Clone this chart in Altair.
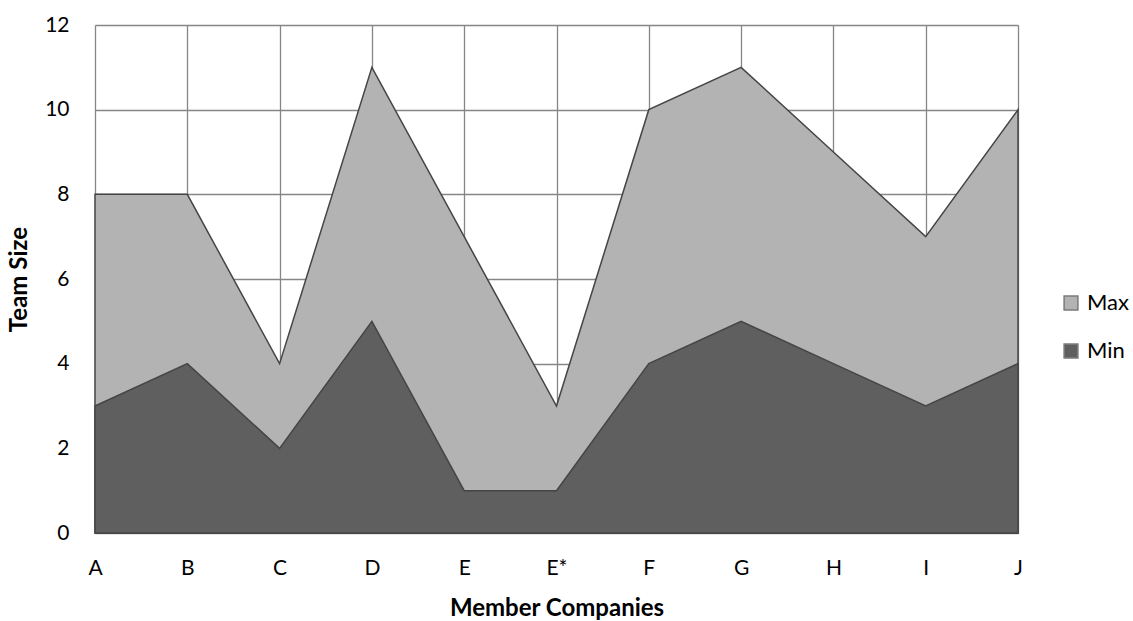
import altair as alt
import pandas as pd

companies = ["A", "B", "C", "D", "E", "E*", "F", "G", "H", "I", "J"]
min_vals = [3, 4, 2, 5, 1, 1, 4, 5, 4, 3, 4]
max_vals = [8, 8, 4, 11, 7, 3, 10, 11, 9, 7, 10]

rows = []
for c, v in zip(companies, max_vals):
    rows.append({"company": c, "series": "Max", "value": v})
for c, v in zip(companies, min_vals):
    rows.append({"company": c, "series": "Min", "value": v})
df = pd.DataFrame(rows)

FONT = "Lato"

x = alt.X("company:N", sort=companies, title="Member Companies",
          scale=alt.Scale(type="point", padding=0),
          axis=alt.Axis(labelAngle=0, labelPadding=24, ticks=False, domain=False,
                        grid=True, gridColor="#868686", gridWidth=1.3,
                        labelFontSize=21, titleFontSize=24, titleFontWeight="bold",
                        labelColor="#000", titleColor="#000", titlePadding=18,
                        labelFont=FONT, titleFont=FONT))
y = alt.Y("value:Q", title="Team Size",
          scale=alt.Scale(domain=[0, 12], nice=False),
          axis=alt.Axis(values=[0, 2, 4, 6, 8, 10, 12], ticks=False, domain=False,
                        grid=True, gridColor="#868686", gridWidth=1.3,
                        labelPadding=26, labelFontSize=21, titleFontSize=24,
                        titleFontWeight="bold", labelColor="#000", titleColor="#000",
                        titlePadding=13, labelFont=FONT, titleFont=FONT))
color = alt.Color("series:N", title=None,
                  scale=alt.Scale(domain=["Max", "Min"], range=["#b3b3b3", "#5f5f5f"]),
                  legend=alt.Legend(orient="none", legendX=965, legendY=267,
                                    symbolType="square", symbolSize=190,
                                    symbolStrokeColor="#7a7a7a", symbolStrokeWidth=1.5,
                                    labelFontSize=22, labelFont=FONT, labelColor="#000",
                                    rowPadding=26, labelOffset=5))

base = alt.Chart(df).encode(x=x, y=y, color=color)

max_area = base.transform_filter(alt.datum.series == "Max").mark_area(
    stroke="#454545", strokeWidth=1.5, opacity=1)
min_area = base.transform_filter(alt.datum.series == "Min").mark_area(
    stroke="#454545", strokeWidth=1.5, opacity=1)

chart = alt.layer(max_area, min_area).properties(
    width=923, height=508,
    autosize=alt.AutoSizeParams(type="none"),
    padding={"left": 95, "top": 25, "right": 115, "bottom": 88},
).configure_view(stroke=None).configure(background="white")

chart.save("out.html", embed_options={"renderer": "svg", "actions": False})
